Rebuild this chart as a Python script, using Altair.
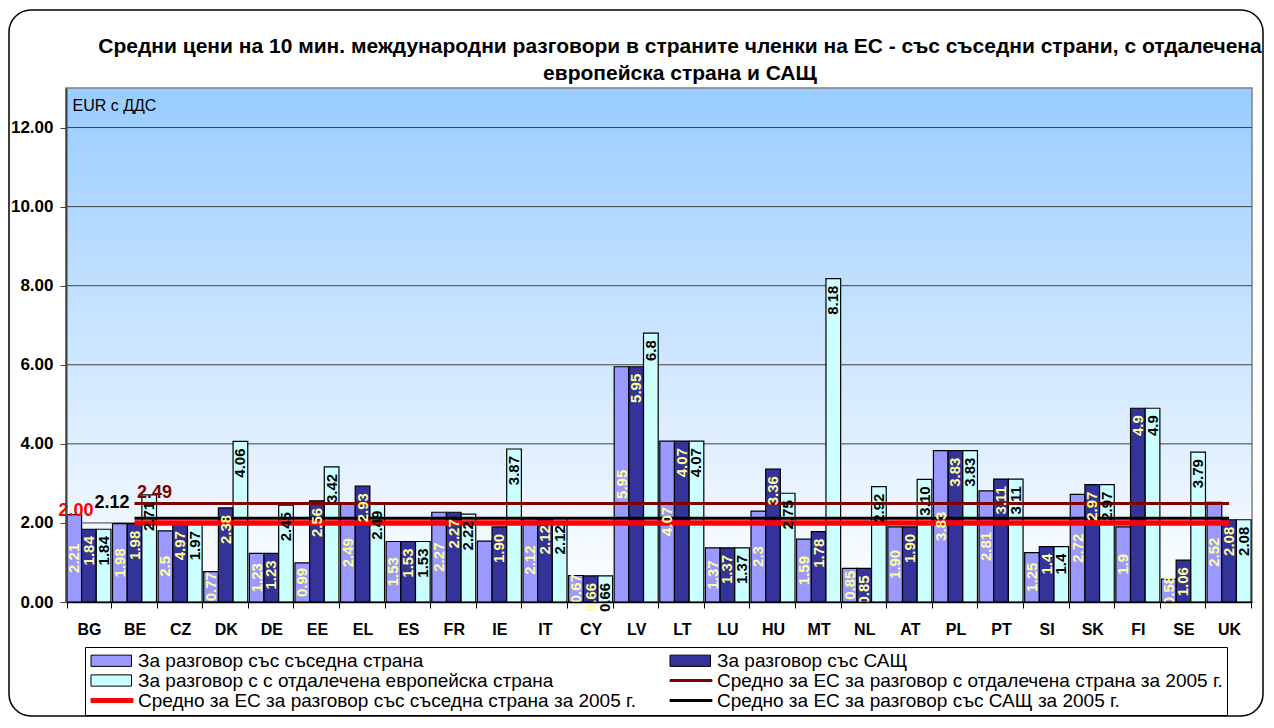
import altair as alt
import pandas as pd

cats = ["BG", "BE", "CZ", "DK", "DE", "EE", "EL", "ES", "FR", "IE", "IT", "CY", "LV",
        "LT", "LU", "HU", "MT", "NL", "AT", "PL", "PT", "SI", "SK", "FI", "SE", "UK"]
neighbor = [2.21, 1.98, 1.80, 0.77, 1.23, 0.99, 2.49, 1.53, 2.27, 1.54, 2.12, 0.67, 5.95,
            4.07, 1.37, 2.30, 1.59, 0.85, 1.90, 3.83, 2.81, 1.25, 2.72, 1.90, 0.58, 2.52]
usa = [1.84, 1.98, 1.97, 2.38, 1.23, 2.56, 2.93, 1.53, 2.27, 1.90, 2.12, 0.66, 5.95,
       4.07, 1.37, 3.36, 1.78, 0.85, 1.90, 3.83, 3.11, 1.40, 2.97, 4.90, 1.06, 2.08]
distant = [1.84, 2.71, 1.97, 4.06, 2.45, 3.42, 2.49, 1.53, 2.22, 3.87, 2.12, 0.66, 6.80,
           4.07, 1.37, 2.75, 8.18, 2.92, 3.10, 3.83, 3.11, 1.40, 2.97, 4.90, 3.79, 2.08]
neighbor_lbl = ["2.21", "1.98", "2.5", "0.77", "1.23", "0.99", "2.49", "1.53", "2.27", "", "2.12", "0.67", "5.95",
                "4.07", "1.37", "2.3", "1.59", "0.85", "1.90", "3.83", "2.81", "1.25", "2.72", "1.9", "0.58", "2.52"]
usa_lbl = ["1.84", "1.98", "4.97", "2.38", "1.23", "2.56", "2.93", "1.53", "2.27", "1.90", "2.12", "0.66", "5.95",
           "4.07", "1.37", "3.36", "1.78", "0.85", "1.90", "3.83", "3.11", "1.4", "2.97", "4.9", "1.06", "2.08"]
distant_lbl = ["1.84", "2.71", "1.97", "4.06", "2.45", "3.42", "2.49", "1.53", "2.22", "3.87", "2.12", "0.66", "6.8",
               "4.07", "1.37", "2.75", "8.18", "2.92", "3.10", "3.83", "3.11", "1.4", "2.97", "4.9", "3.79", "2.08"]

S_NB = "За разговор със съседна страна"
S_US = "За разговор със САЩ"
S_DI = "За разговор с с отдалечена европейска страна"
L_DI = "Средно за ЕС за разговор с отдалечена страна за 2005 г."
L_NB = "Средно за ЕС за разговор със съседна страна за 2005 г."
L_US = "Средно за ЕС за разговор със САЩ за 2005 г."

bar_series = [S_NB, S_US, S_DI]
line_series = [L_DI, L_US, L_NB]
line_values = [2.49, 2.12, 2.00]
line_labels = ["2.49", "2.12", "2.00"]
line_colors = ["#800000", "#000000", "#FF0000"]
line_widths = [3, 3, 5.5]

legend_order = [S_NB, S_US, S_DI, L_DI, L_NB, L_US]
fill_colors = ["#9999FF", "#333399", "#CCFFFF", "#800000", "#FF0000", "#000000"]
stroke_colors = ["#000000", "#000000", "#000000", "#800000", "#FF0000", "#000000"]
# legend symbol outlines (unit = half of sqrt(symbolSize))
RECT = "M-1,-0.75L4.4,-0.75L4.4,0.75L-1,0.75Z"
THIN = "M-1,-0.13L4.6,-0.13L4.6,0.13L-1,0.13Z"
THICK = "M-1,-0.27L4.6,-0.27L4.6,0.27L-1,0.27Z"
shapes = [RECT, RECT, RECT, THIN, THICK, THIN]

y_ticks = [0, 2, 4, 6, 8, 10, 12]
grid_vals = [2, 4, 6, 8, 10, 12]

title_lines = ["Средни цени на 10 мин. международни разговори в страните членки на ЕС - със съседни страни, с отдалечена",
               "европейска страна и САЩ"]

W, H = 1186, 514

# ---------- data tables ----------
rows = []
for i, c in enumerate(cats):
    for s, vals, lbls in zip(bar_series, [neighbor, usa, distant], [neighbor_lbl, usa_lbl, distant_lbl]):
        rows.append({"cat": c, "series": s, "value": vals[i], "label": lbls[i]})
bars_df = pd.DataFrame(rows)

lrows = []
for s, v in zip(line_series, line_values):
    for c in cats[1:]:
        lrows.append({"cat": c, "series": s, "value": v})
lines_df = pd.DataFrame(lrows)

legend_df = pd.DataFrame({"series": legend_order, "cat": ["BG"] * 6, "value": [0.4] * 6})
grid_df = pd.DataFrame({"value": grid_vals})
one_df = pd.DataFrame({"a": [0]})

# ---------- scales ----------
xscale = alt.Scale(domain=cats, paddingInner=0.035, paddingOuter=0.02)
yscale = alt.Scale(domain=[0, 13], nice=False, zero=True)
xoff_scale = alt.Scale(domain=bar_series, paddingInner=0, paddingOuter=0)
fill_scale = alt.Scale(domain=legend_order, range=fill_colors)
stroke_scale = alt.Scale(domain=legend_order, range=stroke_colors)
shape_scale = alt.Scale(domain=legend_order, range=shapes)

xaxis = alt.Axis(title=None, labelAngle=0, labelFontSize=16, labelFontWeight="bold", labelColor="black",
                 labelPadding=13, tickSize=6, tickBand="extent", domainColor="black", tickColor="black",
                 domainWidth=1.5, grid=False, zindex=1)
yaxis = alt.Axis(values=y_ticks, format=".2f", grid=False, labelFontSize=17, labelFontWeight="bold",
                 labelColor="black", labelPadding=7, tickSize=6, tickColor="#404040", domainColor="#404040",
                 domainWidth=2, zindex=1, title="EUR с ДДС", titleAngle=0, titleX=6, titleY=22,
                 titleAlign="left", titleBaseline="alphabetic", titleFontWeight="normal", titleFontSize=16,
                 titleColor="black")

# the first layer that uses x / y carries the axis definitions
X = lambda: alt.X("cat:N", scale=xscale, sort=None)
Y = lambda f: alt.Y(f, scale=yscale)

legend_def = alt.Legend(title=None, orient="none", legendX=19, legendY=559, columns=2, direction="horizontal",
                        columnPadding=32, rowPadding=0, symbolSize=225, symbolStrokeWidth=1, labelFontSize=19,
                        labelLimit=900, labelColor="black", fillColor="white", strokeColor="black",
                        padding=4, labelOffset=30)

# ---------- layers ----------
frame = alt.Chart(one_df).mark_rect(filled=False, stroke="black", strokeWidth=1.5, cornerRadius=22).encode(
    x=alt.value(-57), x2=alt.value(1197), y=alt.value(-78), y2=alt.value(628))

gradient = alt.LinearGradient(gradient="linear", x1=0, x2=0, y1=0, y2=1,
                              stops=[alt.GradientStop(color="#99CCFF", offset=0),
                                     alt.GradientStop(color="#FFFFFF", offset=1)])
bg = alt.Chart(one_df).mark_rect(fill=gradient, stroke="#808080", strokeWidth=1.5).encode(
    y=alt.YDatum(13, scale=yscale, axis=yaxis), y2=alt.Y2Datum(0))

grid = alt.Chart(grid_df).mark_rule(color="#404040", strokeWidth=1).encode(y=Y("value:Q"))

legend_pts = alt.Chart(legend_df).mark_point(filled=True, size=20, opacity=1, strokeWidth=1).encode(
    x=alt.X("cat:N", scale=xscale, sort=None, axis=xaxis), y=Y("value:Q"),
    fill=alt.Fill("series:N", scale=fill_scale, legend=legend_def),
    stroke=alt.Stroke("series:N", scale=stroke_scale, legend=legend_def),
    shape=alt.Shape("series:N", scale=shape_scale, legend=legend_def))

bars = alt.Chart(bars_df).mark_bar(stroke="black", strokeWidth=1.2).encode(
    x=X(),
    xOffset=alt.XOffset("series:N", scale=xoff_scale, sort=None),
    y=Y("value:Q"),
    fill=alt.Fill("series:N", scale=fill_scale, legend=None))

line_layers = []
for s, w in zip(line_series, line_widths):
    line_layers.append(
        alt.Chart(lines_df).transform_filter(alt.FieldEqualPredicate(field="series", equal=s))
        .mark_line(strokeWidth=w, strokeCap="butt").encode(
            x=X(), y=Y("value:Q"), stroke=alt.Stroke("series:N", scale=stroke_scale, legend=None)))

lbl_common = dict(angle=270, fontWeight="bold", fontSize=15, baseline="middle")
nb_text = alt.Chart(bars_df).transform_filter(alt.FieldEqualPredicate(field="series", equal=S_NB)) \
    .transform_calculate(mid="datum.value / 2") \
    .mark_text(align="center", color="#FFFF99", **lbl_common).encode(
        x=X(), xOffset=alt.XOffset("series:N", scale=xoff_scale, sort=None), y=Y("mid:Q"), text="label:N")
us_text = alt.Chart(bars_df).transform_filter(alt.FieldEqualPredicate(field="series", equal=S_US)) \
    .mark_text(align="right", dx=-7, color="#FFFF99", **lbl_common).encode(
        x=X(), xOffset=alt.XOffset("series:N", scale=xoff_scale, sort=None), y=Y("value:Q"), text="label:N")
di_text = alt.Chart(bars_df).transform_filter(alt.FieldEqualPredicate(field="series", equal=S_DI)) \
    .mark_text(align="right", dx=-7, color="black", **lbl_common).encode(
        x=X(), xOffset=alt.XOffset("series:N", scale=xoff_scale, sort=None), y=Y("value:Q"), text="label:N")

avg_df = pd.DataFrame({"cat": ["BE"] * 3, "value": line_values, "label": line_labels})
avg_texts = []
for i, (align, dx, dy) in enumerate([("center", 20, -6), ("right", -5, -10), ("right", -41, -7)]):
    avg_texts.append(
        alt.Chart(avg_df.iloc[[i]]).mark_text(align=align, dx=dx, dy=dy, baseline="alphabetic",
                                              fontSize=18, fontWeight="bold", color=line_colors[i]).encode(
            x=X(), y=Y("value:Q"), text="label:N"))

chart = alt.layer(
    frame, bg, grid, legend_pts, bars, *line_layers, nb_text, us_text, di_text, *avg_texts
).properties(
    width=W, height=H,
    autosize=alt.AutoSizeParams(type="none"),
    padding={"left": 58, "top": 80, "right": 14, "bottom": 118},
    title=alt.Title(text=title_lines, fontSize=21, fontWeight="bold", anchor="middle", dx=21,
                    offset=-96, lineHeight=27, color="black", baseline="bottom"),
).configure(font="Liberation Sans").configure_view(stroke=None)

chart.save("out.html", embed_options={"renderer": "svg", "actions": False})
